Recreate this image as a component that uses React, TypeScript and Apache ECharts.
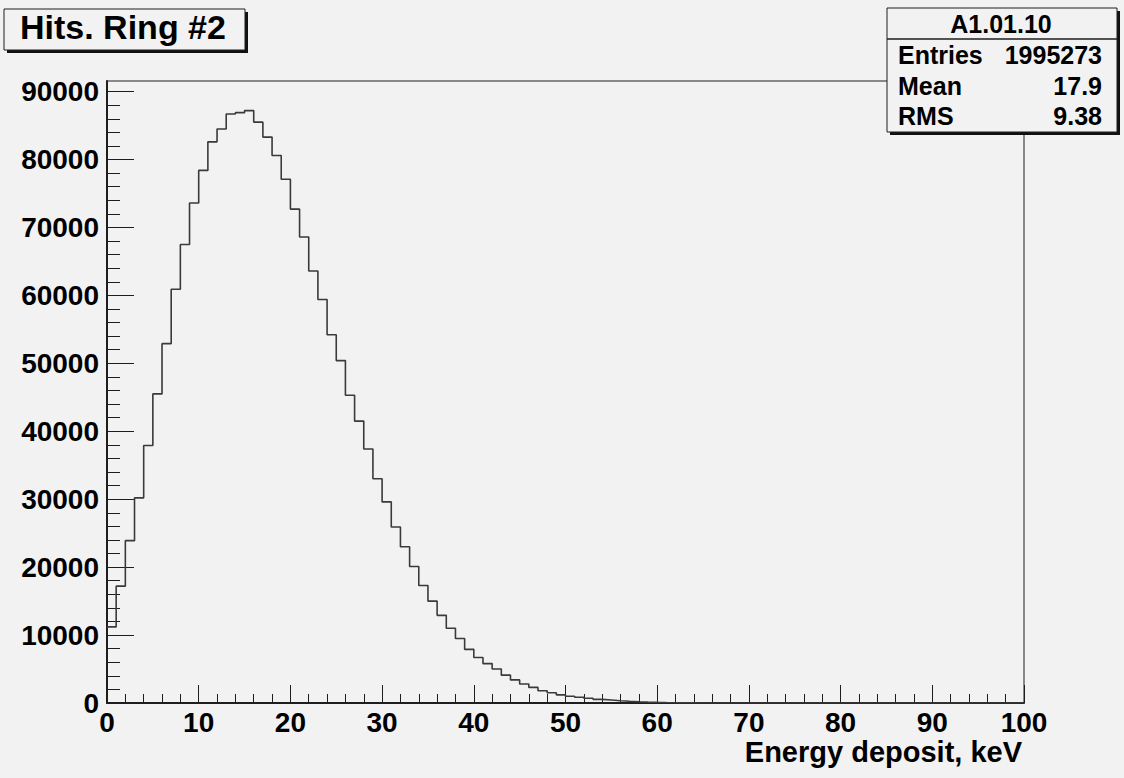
import React, { useEffect, useRef } from 'react';
import * as echarts from 'echarts';

// Histogram: 100 bins of 1 keV from 0 to 100 keV
const binLow = 0;
const binWidth = 1;
const counts = [
  11200, 17200, 23900, 30200, 37900, 45500, 52900, 60900, 67500, 73600,
  78400, 82600, 84500, 86700, 86900, 87200, 85500, 83300, 80600, 77100,
  72700, 68600, 63600, 59400, 54200, 50400, 45300, 41500, 37400, 33000,
  29600, 25900, 23000, 20100, 17300, 15000, 12900, 11000, 9500, 7900,
  6700, 5800, 5000, 4100, 3400, 2800, 2300, 1800, 1500, 1200,
  1000, 840, 690, 540, 440, 340, 250, 180, 130, 90,
  60, 40, 25, 15, 10, 6, 4, 2, 0, 0,
  0, 0, 0, 0, 0, 0, 0, 0, 0, 0,
  0, 0, 0, 0, 0, 0, 0, 0, 0, 0,
  0, 0, 0, 0, 0, 0, 0, 0, 0, 0,
];

const yMajorTicks = [0, 10000, 20000, 30000, 40000, 50000, 60000, 70000, 80000, 90000];
const yMinorTicks = [
  2000, 4000, 6000, 8000, 12000, 14000, 16000, 18000, 22000, 24000, 26000, 28000,
  32000, 34000, 36000, 38000, 42000, 44000, 46000, 48000, 52000, 54000, 56000, 58000,
  62000, 64000, 66000, 68000, 72000, 74000, 76000, 78000, 82000, 84000, 86000, 88000,
];
const yMax = 91560;
const xMin = 0;
const xMax = 100;
const xInterval = 10;

const histTitle = 'Hits. Ring #2';
const statsTitle = 'A1.01.10';
const statsLabels = ['Entries', 'Mean', 'RMS'];
const statsValues = ['1995273', '17.9', '9.38'];
const xAxisTitle = 'Energy deposit, keV';

const FONT = '"Liberation Sans", Arial, Helvetica, sans-serif';
const BG = '#f2f2f2';
const INK = '#1e1e1e';

export default function App() {
  const ref = useRef<HTMLDivElement>(null);

  useEffect(() => {
    if (!ref.current) return;
    const chart = echarts.init(ref.current, null, { renderer: 'svg' });

    const data: number[][] = counts.map((v, i) => [binLow + i * binWidth, v]);
    data.push([binLow + counts.length * binWidth, counts[counts.length - 1]]);

    const statsRowY = [55, 85.5, 116];

    const graphic: any[] = [
      // title box
      { type: 'rect', z: 100, shape: { x: 7, y: 12, width: 241, height: 41 }, style: { fill: '#111' } },
      { type: 'rect', z: 101, shape: { x: 4, y: 9, width: 241, height: 41 }, style: { fill: BG, stroke: INK, lineWidth: 1 } },
      {
        type: 'text', z: 102, x: 20, y: 27,
        style: { text: histTitle, fill: '#000', font: `bold 34px ${FONT}`, textAlign: 'left', textVerticalAlign: 'middle' },
      },
      // stats box
      { type: 'rect', z: 100, shape: { x: 890, y: 11, width: 230, height: 124 }, style: { fill: '#111' } },
      { type: 'rect', z: 101, shape: { x: 887, y: 8, width: 230, height: 124 }, style: { fill: BG, stroke: INK, lineWidth: 1 } },
      { type: 'line', z: 102, shape: { x1: 887, y1: 39, x2: 1117, y2: 39 }, style: { stroke: INK, lineWidth: 1.5 } },
      {
        type: 'text', z: 102, x: 1001, y: 24,
        style: { text: statsTitle, fill: '#000', font: `bold 25px ${FONT}`, textAlign: 'center', textVerticalAlign: 'middle' },
      },
      ...statsLabels.map((t, i) => ({
        type: 'text', z: 102, x: 898, y: statsRowY[i],
        style: { text: t, fill: '#000', font: `bold 25px ${FONT}`, textAlign: 'left', textVerticalAlign: 'middle' },
      })),
      ...statsValues.map((t, i) => ({
        type: 'text', z: 102, x: 1102, y: statsRowY[i],
        style: { text: t, fill: '#000', font: `bold 25px ${FONT}`, textAlign: 'right', textVerticalAlign: 'middle' },
      })),
      // x axis title
      {
        type: 'text', z: 102, x: 1022, y: 752,
        style: { text: xAxisTitle, fill: '#000', font: `bold 29px ${FONT}`, textAlign: 'right', textVerticalAlign: 'middle' },
      },
    ];

    const labelStyle = { color: '#000', fontFamily: FONT, fontWeight: 'bold' as const, fontSize: 28 };
    const plain = (v: number) => String(v);

    chart.setOption({
      animation: false,
      backgroundColor: BG,
      grid: {
        left: 107, right: 100, top: 81, bottom: 75,
        show: true, borderColor: INK, borderWidth: 1, backgroundColor: 'transparent',
      },
      xAxis: {
        type: 'value', min: xMin, max: xMax, interval: xInterval,
        axisLine: { show: true, onZero: false, lineStyle: { color: INK, width: 2 } },
        axisTick: { show: true, inside: true, length: 18, lineStyle: { color: INK, width: 1 } },
        minorTick: { show: true, splitNumber: 5, length: 9, lineStyle: { color: INK, width: 1 } },
        axisLabel: { ...labelStyle, margin: 5, formatter: plain },
        splitLine: { show: false },
        minorSplitLine: { show: false },
      },
      yAxis: [
        {
          type: 'value', min: 0, max: yMax, position: 'left',
          axisLine: { show: true, onZero: false, lineStyle: { color: INK, width: 2 } },
          axisTick: { show: true, inside: true, length: 27, customValues: yMajorTicks, lineStyle: { color: INK, width: 1 } },
          axisLabel: { ...labelStyle, margin: 8, customValues: yMajorTicks, formatter: plain },
          splitLine: { show: false },
        },
        {
          type: 'value', min: 0, max: yMax, position: 'left',
          axisLine: { show: false, onZero: false },
          axisTick: { show: true, inside: true, length: 13, customValues: yMinorTicks, lineStyle: { color: INK, width: 1 } },
          axisLabel: { show: false },
          splitLine: { show: false },
        },
      ],
      series: [
        {
          type: 'line', xAxisIndex: 0, yAxisIndex: 0, data, step: 'end',
          symbol: 'none', showSymbol: false, clip: true,
          lineStyle: { color: '#3a3a3a', width: 1.6 },
        },
      ],
      graphic,
    });

    return () => chart.dispose();
  }, []);

  return <div ref={ref} style={{ position: 'absolute', left: 0, top: 0, width: 1124, height: 778 }} />;
}
